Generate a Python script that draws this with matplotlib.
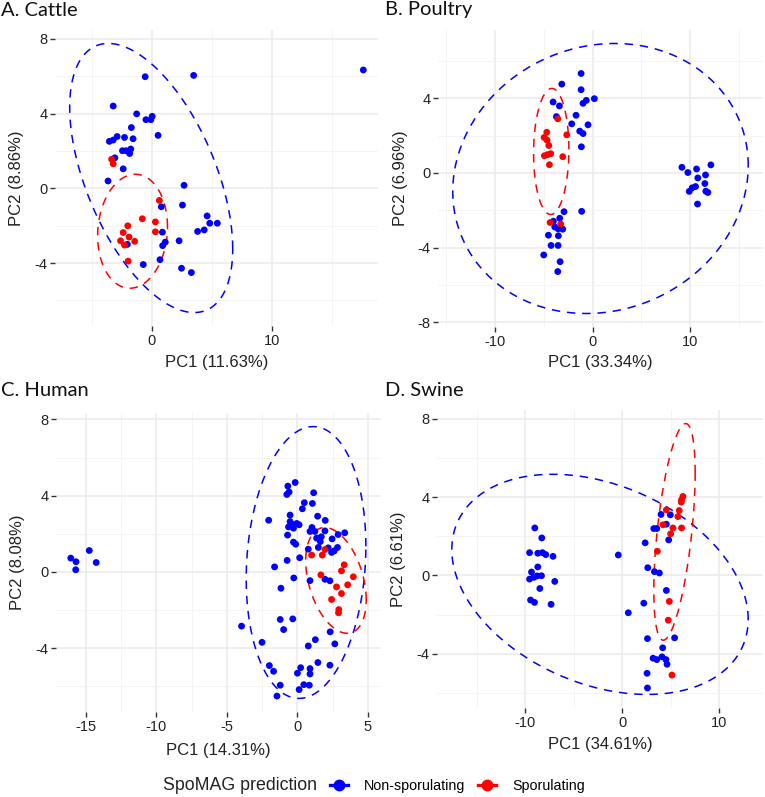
import numpy as np
import matplotlib
matplotlib.use("Agg")
import matplotlib.pyplot as plt
from matplotlib.ticker import MultipleLocator
from matplotlib.lines import Line2D

plt.rcParams['font.family'] = ['Liberation Sans', 'DejaVu Sans']

BLUE = '#0000FF'
RED = '#FF0000'

# ---- data ----
# A. Cattle
cattle_non_x = [17.59, -0.55, 3.48, -3.21, -1.26, -0.49, 0.03, -0.08, -1.70, 0.52, -3.53, -3.21,
                -2.88, -2.27, -1.56, -2.44, -2.14, -1.75, -1.84, -3.07, -2.38, -3.64, 2.68, 2.55,
                0.79, 4.60, 4.82, 5.45, 4.36, 3.81, 0.88, 1.12, 0.90, 2.27, -2.03, -0.71, 0.68,
                2.47, 3.29]
cattle_non_y = [6.33, 5.97, 6.04, 4.40, 3.98, 3.67, 3.85, 3.67, 3.25, 2.83, 2.51, 2.58,
                2.77, 2.72, 2.65, 2.01, 2.01, 2.10, 1.86, 1.63, 1.04, 0.39, 0.16, -0.90,
                -0.99, -1.48, -1.87, -1.87, -2.23, -2.31, -2.35, -2.88, -3.07, -2.81, -3.00,
                -4.08, -3.82, -4.28, -4.51]
cattle_spo_x = [-3.34, -3.21, 0.63, -0.79, 0.30, 0.30, -2.00, -2.38, -1.89, -2.60, -2.27, -1.42, -1.97]
cattle_spo_y = [1.55, 1.31, -0.65, -1.63, -1.80, -2.33, -2.01, -2.37, -2.61, -2.81, -3.04, -2.84, -3.90]

# B. Poultry
poultry_non_x = [-1.19, -3.17, -1.19, 0.17, -0.65, -0.99, -4.06, -3.41, -3.72, -1.71, -2.15, -0.48,
                 -1.33, -0.99, -1.16, -1.13, -2.94, -3.38, -4.03, -3.89, -3.55, -3.07, -4.54,
                 -3.52, -4.27, -3.55, -5.02, -3.34, -3.58, 9.15, 9.76, 10.65, 12.12, 11.57,
                 10.78, 11.50, 10.55, 10.20, 9.90, 11.60, 11.81, 10.75]
poultry_non_y = [5.33, 4.76, 4.46, 3.98, 3.89, 3.73, 3.80, 3.59, 3.02, 3.09, 2.63, 2.58,
                 2.24, 2.11, 1.40, -2.06, -2.08, -2.43, -2.59, -2.90, -3.00, -3.02, -3.34,
                 -3.37, -3.89, -3.89, -4.40, -4.76, -5.29, 0.30, 0.02, 0.21, 0.43, -0.11,
                 -0.27, -0.57, -0.73, -0.80, -0.99, -0.98, -1.05, -1.67]
poultry_spo_x = [-4.71, -4.98, -4.68, -4.50, -3.58, -2.66, -4.95, -4.64, -4.30, -3.07, -4.44, -4.37, -3.28]
poultry_spo_y = [2.18, 1.90, 1.76, 1.47, 2.90, 2.04, 0.92, 0.98, 1.03, 0.87, 0.44, -2.66, -2.74]

# C. Human
human_non_x = [-16.06, -15.69, -15.71, -14.75, -14.26, -0.16, -0.68, -0.59, -0.75, 1.15, 0.49,
               1.06, 0.35, -0.52, 1.43, -2.04, 1.97, -0.52, -0.40, -0.05, 0.12, -0.63, -0.28,
               -0.70, 1.03, 1.24, 0.89, 1.95, 2.88, 3.35, 1.36, 1.69, 2.46, 1.62, -0.28, -0.12,
               0.77, 1.48, 2.18, 2.42, 2.60, 2.84, -0.73, 0.16, -1.62, -0.26, 0.89, 1.95, 2.30,
               -1.17, -0.33, -1.22, -0.98, -3.96, -2.51, 1.27, 0.77, 2.32, 2.65, -1.99, -1.69,
               -1.22, -1.45, 0.00, 0.23, 0.89, 0.89, 1.45, 2.30, 0.45, 0.12, 0.84]
human_non_y = [0.72, 0.53, 0.11, 1.12, 0.49, 4.69, 4.50, 4.19, 4.06, 4.15, 3.63,
               3.59, 3.31, 2.98, 2.92, 2.71, 2.70, 2.64, 2.50, 2.54, 2.47, 2.36, 2.29,
               1.93, 2.33, 2.12, 2.12, 2.15, 1.96, 2.05, 1.77, 1.84, 1.73, 1.59, 1.56, 1.45,
               1.19, 1.28, 1.26, 1.02, 1.10, 1.28, 0.60, 0.74, 0.26, -0.32, -0.46, -0.39, -0.47,
               -0.86, -2.47, -2.50, -3.03, -2.85, -3.70, -3.56, -3.89, -3.15, -3.78, -4.92, -5.22,
               -5.95, -6.52, -5.32, -5.03, -5.08, -5.36, -4.76, -4.90, -5.92, -6.18, -5.95]
human_spo_x = [1.01, 1.76, 1.95, 3.31, 3.12, 1.66, 3.96, 3.56, 2.77, 3.12, 2.42, 2.93, 2.91]
human_spo_y = [0.88, 0.88, 1.17, 0.37, 0.05, -0.16, -0.26, -0.68, -0.79, -1.14, -1.45, -1.98, -2.15]

# D. Swine
swine_non_x = [-9.03, -8.31, -9.57, -8.72, -8.24, -7.90, -7.15, -8.72, -9.37, -9.57, -9.13, -8.79,
               -8.34, -6.97, -8.51, -9.47, -9.06, -7.35, -0.41, 0.62, 2.36, 3.25, 3.56, 4.00,
               4.55, 4.96, 4.79, 2.63, 3.32, 3.83, 4.55, 2.22, 2.60, 5.40, 4.17, 3.18, 3.56,
               4.10, 4.51, 4.62, 2.56, 2.60]
swine_non_y = [2.42, 1.91, 1.16, 1.13, 1.16, 1.06, 0.97, 0.43, 0.17, -0.19, -0.10, -0.03,
               -0.02, -0.31, -0.67, -1.26, -1.38, -1.48, 1.04, -1.91, 1.66, 2.39, 2.39, 3.11,
               2.61, 3.09, 1.81, 0.39, 0.19, 0.12, -0.77, -1.42, -3.23, -3.19, -3.70, -4.23,
               -4.30, -4.16, -4.30, -4.54, -5.00, -5.75]
swine_spo_x = [6.26, 6.12, 6.09, 4.55, 5.88, 5.74, 4.21, 5.23, 6.12, 4.99, 3.62, 4.85, 4.75, 5.13]
swine_spo_y = [4.03, 3.86, 3.74, 3.34, 3.31, 3.00, 2.58, 2.42, 2.42, 2.12, 1.23, -1.33, -2.29, -5.09]

# 95% ellipses: centre x, centre y, var x, var y, cov xy
cattle_ell_non = (-0.05, 0.55, 45.97, 51.84, -25.7)
cattle_ell_spo = (-1.6, -2.3, 8.44, 9.30, 0.7)
poultry_ell_non = (0.8, -0.3, 229.5, 52.4, 10.5)
poultry_ell_spo = (-4.25, 1.15, 3.28, 11.42, 0.2)
human_ell_non = (0.61, 0.49, 17.98, 50.9, 3.6)
human_ell_spo = (2.73, -0.45, 4.6, 7.7, -2.2)
swine_ell_non = (-2.3, -0.46, 234.0, 31.6, -27.3)
swine_ell_spo = (5.39, 2.22, 4.56, 30.6, 6.4)

panels = [
    ("A. Cattle", "PC1 (11.63%)", "PC2 (8.86%)", cattle_non_x, cattle_non_y, cattle_spo_x, cattle_spo_y,
     cattle_ell_non, cattle_ell_spo, 10, 5, 4, 2),
    ("B. Poultry", "PC1 (33.34%)", "PC2 (6.96%)", poultry_non_x, poultry_non_y, poultry_spo_x, poultry_spo_y,
     poultry_ell_non, poultry_ell_spo, 10, 5, 4, 2),
    ("C. Human", "PC1 (14.31%)", "PC2 (8.08%)", human_non_x, human_non_y, human_spo_x, human_spo_y,
     human_ell_non, human_ell_spo, 5, 2.5, 4, 2),
    ("D. Swine", "PC1 (34.61%)", "PC2 (6.61%)", swine_non_x, swine_non_y, swine_spo_x, swine_spo_y,
     swine_ell_non, swine_ell_spo, 10, 5, 4, 2),
]

W, H = 765, 797
fig = plt.figure(figsize=(W / 100, H / 100), dpi=100, facecolor='white')

# axes boxes in pixels: left, right, top, bottom
boxes = [(55, 378, 30, 326), (438, 763, 30, 327), (56, 381, 413, 712), (437, 763, 410, 708)]
title_pos = [(1, 10), (385, 10), (1, 390), (385, 390)]
ylab_x = [17, 401, 18, 398]
xlab_y = [362, 362, 750, 745]


def ellipse_xy(par):
    cx, cy, sxx, syy, sxy = par
    L = np.linalg.cholesky(np.array([[sxx, sxy], [sxy, syy]]))
    t = np.linspace(0, 2 * np.pi, 200)
    pts = L @ np.vstack([np.cos(t), np.sin(t)])
    return cx + pts[0], cy + pts[1]


for i, p in enumerate(panels):
    (title, xl, yl, nx, ny, sx, sy, en, es, xmaj, xmin, ymaj, ymin) = p
    l, r, t, b = boxes[i]
    ax = fig.add_axes([l / W, 1 - b / H, (r - l) / W, (b - t) / H])
    ax.set_facecolor('white')
    for s in ax.spines.values():
        s.set_visible(False)

    ex, ey = ellipse_xy(en)
    ax.plot(ex, ey, color=BLUE, lw=1.1, dashes=(5.5, 4.5), zorder=3)
    ex, ey = ellipse_xy(es)
    ax.plot(ex, ey, color=RED, lw=1.1, dashes=(5.5, 4.5), zorder=3)
    ax.scatter(nx, ny, s=24, color=BLUE, edgecolors='none', zorder=4)
    ax.scatter(sx, sy, s=24, color=RED, edgecolors='none', zorder=4)
    ax.margins(0.05)

    ax.xaxis.set_major_locator(MultipleLocator(xmaj))
    ax.xaxis.set_minor_locator(MultipleLocator(xmin))
    ax.yaxis.set_major_locator(MultipleLocator(ymaj))
    ax.yaxis.set_minor_locator(MultipleLocator(ymin))
    ax.grid(which='major', color='#EBEBEB', lw=1.1, zorder=0)
    ax.grid(which='minor', color='#F2F2F2', lw=0.6, zorder=0)
    ax.set_axisbelow(True)
    ax.tick_params(which='major', length=3.5, width=1.0, color='#333333', labelsize=10.5,
                   labelcolor='#222222', pad=2)
    ax.tick_params(which='minor', length=0)
    ax.xaxis.set_major_formatter(matplotlib.ticker.FuncFormatter(lambda v, pos: '%g' % v))
    ax.yaxis.set_major_formatter(matplotlib.ticker.FuncFormatter(lambda v, pos: '%g' % v))

    fig.text((l + r) / 2 / W, 1 - xlab_y[i] / H, xl, ha='center', va='center', fontsize=12, color='#222222')
    fig.text(ylab_x[i] / W, 1 - (t + b) / 2 / H, yl, ha='center', va='center', rotation=90,
             fontsize=12, color='#222222')
    fig.text(title_pos[i][0] / W, 1 - title_pos[i][1] / H, title, ha='left', va='center',
             fontsize=14.5, family=['Lato', 'DejaVu Sans'], color='#111111')

# legend
fig.text(163 / W, 1 - 786 / H, "SpoMAG prediction", ha='left', va='center', fontsize=12.8, color='#222222')
handles = [Line2D([], [], color=BLUE, lw=2.4, marker='o', ms=7.5),
           Line2D([], [], color=RED, lw=2.4, marker='o', ms=7.5)]
fig.legend(handles, ["Non-sporulating", "Sporulating"], loc='center left',
           bbox_to_anchor=(330 / W, 1 - 786 / H), ncol=2, frameon=False, fontsize=10.3,
           handlelength=1.25, handletextpad=1.15, columnspacing=0.85, borderaxespad=0, borderpad=0)

fig.savefig("out.png", dpi=100, facecolor='white')
